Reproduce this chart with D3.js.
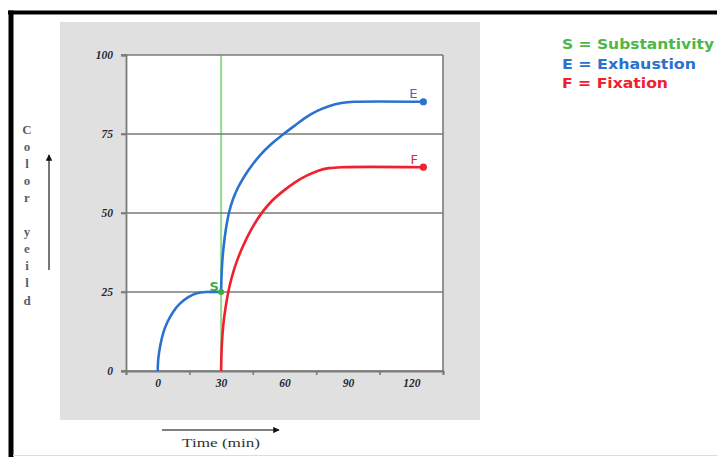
<!DOCTYPE html>
<html><head><meta charset="utf-8">
<script src="https://cdn.jsdelivr.net/npm/d3@7"></script>
<style>body{margin:0;background:#fff}svg{display:block}</style>
</head><body>
<svg id="c" width="717" height="457"></svg>
<script>
// ---- data ----
const xTickLabels = [0, 30, 60, 90, 120];
const xTickMarks = [-15, 15, 45, 75, 105, 135];
const yTicks = [0, 25, 50, 75, 100];
const substantivityTime = 30;
const sPoint = [30, 25];
const exhaustion1 = [[0,0],[0.3,4],[1.2,8],[2.6,12],[4.6,15.5],[7.3,18.7],[10.5,21.3],[14.3,23.3],[18.5,24.6],[23,25],[30,25]];
const exhaustion2 = [[30,25],[30.2,30],[30.6,35],[31.3,40],[32.3,45],[33.7,50],[35.7,54.5],[38.2,58.3],[41.2,61.8],[44.7,65.2],[48.7,68.5],[53.5,71.7],[59,74.7],[64.5,77.5],[70,80.2],[75.5,82.3],[81,83.8],[87,84.8],[93,85.2],[125.7,85.2]];
const fixation = [[30,0],[30.15,5],[30.5,10],[31.1,15],[32.1,20],[33.4,25],[35.2,30],[37.6,35],[40.5,39.7],[44.3,44.8],[49,49.8],[54,53.8],[59.5,57],[65,59.7],[70.5,61.8],[76,63.4],[81,64.2],[87,64.5],[125.7,64.5]];
const legendItems = [["S = Substantivity", "#4cb848"], ["E = Exhaustion", "#2a72d0"], ["F = Fixation", "#f0202e"]];
const yTitle = "Color yeild";
const xTitle = "Time (min)";

// ---- drawing ----
const svg = d3.select("#c");
const x = d3.scaleLinear().domain([-15, 135]).range([126, 443]);
const y = d3.scaleLinear().domain([0, 100]).range([371, 55]);

// outer frame
svg.append("line").attr("x1",8).attr("x2",717).attr("y1",12.5).attr("y2",12.5).attr("stroke","#000").attr("stroke-width",4);
svg.append("line").attr("x1",11).attr("x2",11).attr("y1",10.5).attr("y2",457).attr("stroke","#000").attr("stroke-width",5);
svg.append("line").attr("x1",13).attr("x2",717).attr("y1",455.5).attr("y2",455.5).attr("stroke","#ddd").attr("stroke-width",1);

// grey panel
svg.append("rect").attr("x",60).attr("y",22).attr("width",420).attr("height",398).attr("fill","#e0e0e0");
// plot area
svg.append("rect").attr("x",x(-15)).attr("y",y(100)).attr("width",x(135)-x(-15)).attr("height",y(0)-y(100)).attr("fill","#fff");

// green vertical line
svg.append("line").attr("x1",x(substantivityTime)).attr("x2",x(substantivityTime)).attr("y1",y(100)).attr("y2",y(0))
  .attr("stroke","#93dc8e").attr("stroke-width",2);

// gridlines
svg.append("g").selectAll("line").data(yTicks).join("line")
  .attr("x1",121).attr("x2",x(135)).attr("y1",d=>y(d)).attr("y2",d=>y(d))
  .attr("stroke","#7a7a7a").attr("stroke-width",1.6);
// right border
svg.append("line").attr("x1",x(135)).attr("x2",x(135)).attr("y1",y(100)).attr("y2",y(0)).attr("stroke","#7a7a7a").attr("stroke-width",1.6);

// y axis
const yAxis = svg.append("g").attr("transform",`translate(${x(-15)},0)`)
  .call(d3.axisLeft(y).tickValues(yTicks).tickSize(5).tickPadding(8));
yAxis.select(".domain").attr("stroke","#7a7a7a").attr("stroke-width",1.8);
yAxis.selectAll(".tick line").attr("stroke","#7a7a7a").attr("stroke-width",1.6);
yAxis.selectAll("text").attr("font-family","'Liberation Serif', serif").attr("font-style","italic").attr("font-weight","bold")
  .attr("font-size",11.5).attr("fill","#222838");

// x axis tick marks
const xAxisM = svg.append("g").attr("transform",`translate(0,${y(0)})`)
  .call(d3.axisBottom(x).tickValues(xTickMarks).tickSize(4).tickFormat(""));
xAxisM.select(".domain").attr("stroke","#7a7a7a").attr("stroke-width",1.8);
xAxisM.selectAll(".tick line").attr("stroke","#7a7a7a").attr("stroke-width",1.6);
// x axis labels
const xAxisL = svg.append("g").attr("transform",`translate(0,${y(0)})`)
  .call(d3.axisBottom(x).tickValues(xTickLabels).tickSize(0).tickPadding(8));
xAxisL.select(".domain").remove();
xAxisL.selectAll("text").attr("font-family","'Liberation Serif', serif").attr("font-style","italic").attr("font-weight","bold")
  .attr("font-size",11.5).attr("fill","#222838");

// curves
const line = d3.line().x(d=>x(d[0])).y(d=>y(d[1])).curve(d3.curveCatmullRom.alpha(0.5));
svg.append("path").datum(exhaustion1).attr("d",line).attr("fill","none").attr("stroke","#2a72d0").attr("stroke-width",2.6);
svg.append("path").datum(exhaustion2).attr("d",line).attr("fill","none").attr("stroke","#2a72d0").attr("stroke-width",2.6);
svg.append("path").datum(fixation).attr("d",line).attr("fill","none").attr("stroke","#f0202e").attr("stroke-width",2.6);

// end dots and labels
const eEnd = exhaustion2[exhaustion2.length-1], fEnd = fixation[fixation.length-1];
svg.append("circle").attr("cx",x(eEnd[0])).attr("cy",y(eEnd[1])).attr("r",3.6).attr("fill","#2a72d0");
svg.append("circle").attr("cx",x(fEnd[0])).attr("cy",y(fEnd[1])).attr("r",3.6).attr("fill","#f0202e");
svg.append("circle").attr("cx",x(sPoint[0])).attr("cy",y(sPoint[1])).attr("r",3).attr("fill","#3faa3f");
const lbl = (t,px,py,c)=>svg.append("text").attr("x",px).attr("y",py).text(t).attr("fill",c)
  .attr("font-family","'DejaVu Sans', sans-serif").attr("font-size",13).attr("text-anchor","middle");
lbl("E", x(eEnd[0])-10, y(eEnd[1])-4, "#2a72d0");
lbl("F", x(fEnd[0])-9, y(fEnd[1])-3, "#f0202e");
lbl("S", x(sPoint[0])-7, y(sPoint[1])-1, "#3faa3f").attr("font-weight","bold");

// legend
svg.append("g").selectAll("text").data(legendItems).join("text")
  .attr("x",562).attr("y",(d,i)=>49+i*19.5).text(d=>d[0]).attr("fill",d=>d[1])
  .attr("font-family","'DejaVu Sans', sans-serif").attr("font-weight","bold").attr("font-size",14)
  .attr("textLength",(d,i)=>[152,134,106][i]).attr("lengthAdjust","spacingAndGlyphs");

// y title (stacked letters)
svg.append("g").selectAll("text").data(yTitle.split("")).join("text")
  .attr("x",27).attr("y",(d,i)=>129+i*17.1).attr("dy","0.35em").attr("text-anchor","middle").text(d=>d)
  .attr("font-family","'Liberation Serif', serif").attr("font-weight","bold").attr("font-size",13).attr("fill","#5d5d6a");

// arrows
svg.append("defs").append("marker").attr("id","ah").attr("viewBox","0 0 10 10").attr("refX",9).attr("refY",5)
  .attr("markerWidth",4).attr("markerHeight",4).attr("orient","auto")
  .append("path").attr("d","M0,0L10,5L0,10z").attr("fill","#111");
svg.append("line").attr("x1",49).attr("x2",49).attr("y1",270).attr("y2",155).attr("stroke","#555").attr("stroke-width",1.6).attr("marker-end","url(#ah)");
svg.append("line").attr("x1",162).attr("x2",279).attr("y1",430).attr("y2",430).attr("stroke","#555").attr("stroke-width",1.6).attr("marker-end","url(#ah)");

// x title
svg.append("text").attr("x",182).attr("y",447).text(xTitle).attr("textLength",78).attr("lengthAdjust","spacingAndGlyphs")
  .attr("font-family","'Liberation Serif', serif").attr("font-size",13).attr("fill","#333");
</script>
</body></html>
